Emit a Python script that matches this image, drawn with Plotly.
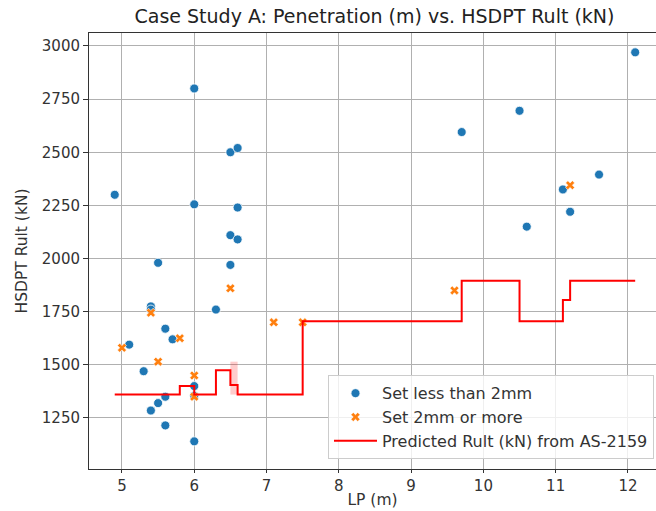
import plotly.graph_objects as go

# Measured data
blue_x = [6.0, 6.5, 6.6, 4.9, 6.0, 6.6, 6.5, 6.6, 5.5, 6.5, 5.4, 5.4, 6.3, 5.6, 5.7, 5.1, 5.3, 6.0, 6.0, 5.6,
          5.5, 5.4, 5.6, 6.0, 12.1, 10.5, 9.7, 11.6, 11.1, 11.2, 10.6]
blue_y = [2800, 2500, 2520, 2300, 2255, 2240, 2110, 2090, 1980, 1970, 1775, 1760, 1760, 1670, 1620, 1595, 1470, 1400, 1355, 1350,
          1320, 1285, 1215, 1140, 2970, 2695, 2595, 2395, 2325, 2220, 2150]

orange_x = [6.5, 5.4, 7.1, 5.8, 5.0, 5.5, 6.0, 6.0, 7.5, 9.6, 11.2]
orange_y = [1860, 1745, 1700, 1625, 1580, 1515, 1450, 1350, 1700, 1850, 2345]

pred_x = [4.9, 5.0, 5.1, 5.3, 5.4, 5.5, 5.6, 5.7, 5.8, 6.0, 6.3, 6.5, 6.6, 7.1, 7.5, 9.6, 9.7, 10.5, 10.6, 11.1, 11.2, 11.6, 12.1]
pred_y = [1360, 1360, 1360, 1360, 1360, 1360, 1360, 1360, 1400, 1360, 1475, 1405, 1360, 1360, 1705, 1705, 1895, 1705, 1705, 1805, 1895, 1895, 1895]

band_x = [6.5, 6.6]
band_lo = [1360, 1360]
band_hi = [1515, 1515]

x_ticks = [5, 6, 7, 8, 9, 10, 11, 12]
y_ticks = [1250, 1500, 1750, 2000, 2250, 2500, 2750, 3000]

FONT = "DejaVu Sans"

fig = go.Figure()

fig.add_trace(go.Scatter(x=band_x, y=band_lo, mode="lines", line=dict(width=0), line_shape="hv",
                         showlegend=False, hoverinfo="skip"))
fig.add_trace(go.Scatter(x=band_x, y=band_hi, mode="lines", line=dict(width=0), line_shape="hv",
                         fill="tonexty", fillcolor="rgba(255,0,0,0.2)", showlegend=False, hoverinfo="skip"))

fig.add_trace(go.Scatter(x=blue_x, y=blue_y, mode="markers", name="Set less than 2mm",
                         marker=dict(symbol="circle", size=9, color="#1f77b4", line=dict(color="white", width=0.8))))
fig.add_trace(go.Scatter(x=orange_x, y=orange_y, mode="markers", name="Set 2mm or more",
                         marker=dict(symbol="x", size=8, color="#ff7f0e", line=dict(color="white", width=0.6))))
fig.add_trace(go.Scatter(x=pred_x, y=pred_y, mode="lines", name="Predicted Rult (kN) from AS-2159",
                         line=dict(color="red", width=2), line_shape="hv"))

axis_common = dict(showgrid=True, gridcolor="#b0b0b0", gridwidth=1, zeroline=False,
                   ticks="outside", tickcolor="#333", tickwidth=1,
                   linecolor="#333", linewidth=1, showline=True,
                   tickfont=dict(family=FONT, size=15, color="#333"))

fig.update_layout(
    width=656, height=511,
    margin=dict(l=89, r=0, t=33, b=42),
    paper_bgcolor="white", plot_bgcolor="white",
    title=dict(text="Case Study A: Penetration (m) vs. HSDPT Rult (kN)", x=(89 + 660) / 2 / 656, xanchor="center",
               y=1 - 16 / 511, yanchor="middle", font=dict(family=FONT, size=19, color="#222")),
    xaxis=dict(range=[4.544, 12.388], tickvals=x_ticks, mirror=True, ticklen=3,
               title=dict(text="LP (m)", font=dict(family=FONT, size=15.5, color="#333"), standoff=0),
               **axis_common),
    yaxis=dict(range=[1010, 3061], tickvals=y_ticks, ticklen=5,
               title=dict(text="HSDPT Rult (kN)", font=dict(family=FONT, size=15.5, color="#333"), standoff=10),
               **axis_common),
    legend=dict(x=0.4215, y=0.215, xanchor="left", yanchor="top", traceorder="normal",
                itemwidth=43,
                bgcolor="rgba(255,255,255,0.8)", bordercolor="#cccccc", borderwidth=1,
                font=dict(family=FONT, size=16, color="#333"), tracegroupgap=0),
    showlegend=True,
)

fig.write_html("out.html")
